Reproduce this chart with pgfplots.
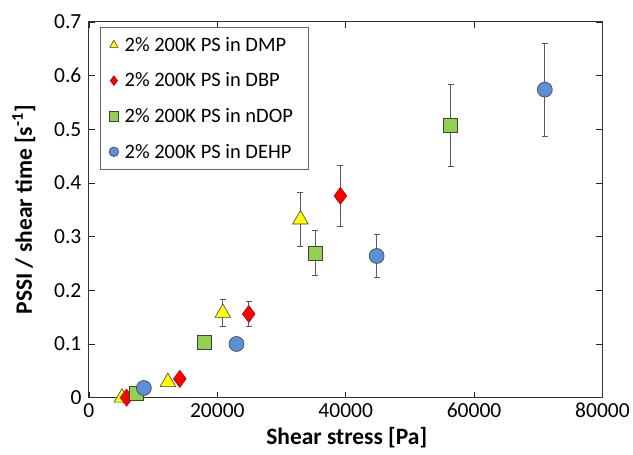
\documentclass[border=0pt]{standalone}
\usepackage{fontspec}
\setmainfont{Carlito}
\usepackage{pgfplots}
\pgfplotsset{compat=1.18}
\definecolor{cyel}{HTML}{FFFF00}
\definecolor{cred}{HTML}{FF0000}
\definecolor{cgrn}{HTML}{92D050}
\definecolor{cblu}{HTML}{5B8FD6}
\definecolor{edge}{HTML}{404040}
\definecolor{ebar}{HTML}{595959}
\begin{document}
\begin{tikzpicture}
\begin{axis}[
  scale only axis, width=514pt, height=376pt,
  xmin=0, xmax=80000, ymin=0, ymax=0.7,
  xtick={0,20000,40000,60000,80000},
  ytick={0,0.1,0.2,0.3,0.4,0.5,0.6,0.7},
  scaled x ticks=false, scaled y ticks=false,
  tick align=inside, major tick length=6pt,
  tick style={black!85, line width=0.8pt},
  axis line style={black!80, line width=1pt},
  clip=false,
  /pgf/number format/assume math mode=true,
  /pgf/number format/1000 sep={},
  yticklabel style={/pgf/number format/fixed, /pgf/number format/precision=1, xshift=-4pt},
  xticklabel style={yshift=-2pt},
  ticklabel style={font=\fontsize{21.5}{21.5}\selectfont},
  xlabel={\textbf{Shear stress [Pa]}},
  ylabel={\textbf{PSSI / shear time [s\textsuperscript{-1}]}},
  every axis x label/.style={at={(axis description cs:0.502,-0.106)}, anchor=center,
    font=\fontsize{23.5}{23.5}\selectfont},
  every axis y label/.style={at={(axis description cs:-0.127,0.5)}, anchor=center, rotate=90,
    font=\fontsize{23.5}{23.5}\selectfont},
  legend style={at={(axis description cs:0.021,0.987)}, anchor=north west,
    draw=black!60, line width=0.8pt, font=\fontsize{20.5}{20.5}\selectfont,
    inner xsep=9pt, inner ysep=8pt, row sep=16pt, nodes={inner xsep=6pt}},
  legend cell align=left,
  legend image post style={mark size=4.8pt},
  error bars/y dir=both, error bars/y explicit,
  error bars/error bar style={ebar, line width=0.9pt},
  error bars/error mark options={rotate=90, mark size=3pt, line width=0.8pt, ebar},
]
\addplot[only marks, mark=triangle*, mark size=9pt,
  mark options={fill=cyel, draw=edge, line width=0.6pt}]
  table[x=x, y=y, y error=e] {
x y e
5140 0.000 0.004
12300 0.029 0.005
20860 0.158 0.025
32950 0.332 0.051
};
\addlegendentry{2\% 200K PS in DMP}
\addplot[only marks, mark=diamond*, mark size=8.5pt,
  mark options={fill=cred, draw=cred!70!black, line width=0.6pt}]
  table[x=x, y=y, y error=e] {
x y e
5870 0.000 0.003
14160 0.035 0.005
24900 0.156 0.023
39180 0.376 0.056
};
\addlegendentry{2\% 200K PS in DBP}
\addplot[only marks, mark=square*, mark size=7pt,
  mark options={fill=cgrn, draw=edge, line width=0.6pt}]
  table[x=x, y=y, y error=e] {
x y e
7420 0.008 0.004
18050 0.104 0.012
35280 0.269 0.042
56340 0.507 0.077
};
\addlegendentry{2\% 200K PS in nDOP}
\addplot[only marks, mark=*, mark size=7.5pt,
  mark options={fill=cblu, draw=edge, line width=0.6pt}]
  table[x=x, y=y, y error=e] {
x y e
8560 0.018 0.004
22990 0.100 0.012
44830 0.264 0.040
71020 0.574 0.087
};
\addlegendentry{2\% 200K PS in DEHP}
\end{axis}
\path (current axis.south west) +(-89pt,-57pt) rectangle +(544pt,398pt);
\end{tikzpicture}
\end{document}
